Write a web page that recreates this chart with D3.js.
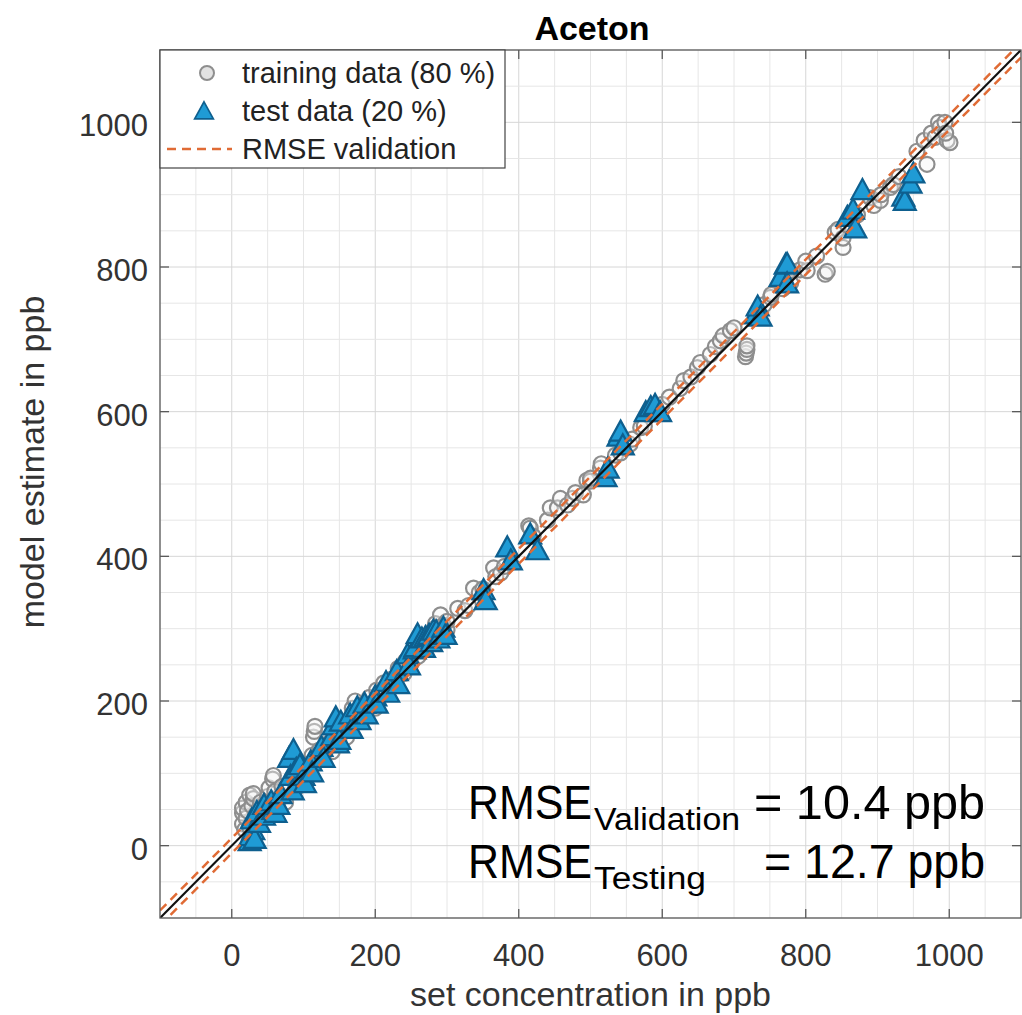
<!DOCTYPE html>
<html>
<head>
<meta charset="utf-8">
<script src="https://cdn.jsdelivr.net/npm/d3@7"></script>
<style>
  body { margin: 0; background: #fff; }
  text { font-family: "Liberation Sans", Arial, Helvetica, sans-serif; }
</style>
</head>
<body>
<script>
// chart size
const width = 1022;
const height = 1015;
const plot = { left: 160, right: 1021, top: 50, bottom: 918 };

// data: [set concentration, model estimate] in ppb
const trainPoints = [
  [15,30],[15,45],[15,52],[18,22],[20,38],[20,60],[22,48],[25,25],[25,70],[28,55],[30,30],[30,65],[30,72],
  [33,42],[35,28],[38,50],[40,42],[40,60],[45,38],[45,55],[50,52],[50,68],[52,80],[55,60],[57,92],[58,97],
  [60,75],[65,62],[70,70],[70,82],[75,60],[78,76],[80,85],[85,95],[90,80],[90,92],[92,105],[100,90],[100,100],
  [102,112],[110,112],[112,125],[114,150],[115,158],[116,165],[120,120],[122,132],[130,128],[132,140],[140,130],
  [142,145],[150,150],[152,162],[160,150],[162,165],[168,190],[170,175],[172,200],[180,180],[182,195],[190,188],
  [192,205],[200,190],[200,200],[202,215],[210,212],[212,225],[220,218],[222,230],[230,232],[232,245],[240,238],
  [242,255],[250,252],[252,265],[260,262],[262,275],[270,275],[272,290],[280,282],[282,300],[284,307],[290,292],
  [291,319],[295,305],[300,298],[300,310],
  [315,328],[325,325],[330,332],[337,356],[345,350],[350,355],[365,384],[368,372],[375,377],[380,386],[414,442],
  [416,439],[420,428],[440,450],[444,467],[454,467],[458,480],[468,471],[475,480],[479,488],[490,485],[495,505],
  [500,504],[500,508],[514,522],[515,528],[535,540],[542,543],[555,555],[558,562],[570,578],[575,580],[590,598],
  [600,610],[610,620],[625,632],[630,643],[640,648],[649,661],[653,668],[667,679],[674,690],[681,698],[685,705],
  [695,712],[700,716],[716,676],[717,681],[718,686],[718,691],[735,735],[742,748],[751,758],[752,762],[768,770],
  [779,778],[779,795],[792,796],[802,795],[800,808],[827,790],[830,794],[815,815],[841,848],[845,852],[852,827],
  [852,840],[858,858],[872,872],[890,896],[895,885],[904,892],[905,900],[918,910],[922,914],[930,925],[955,960],
  [969,942],[965,975],[975,985],[980,979],[985,1000],[987,993],[994,1000],[997,975],[1001,972],[995,985]
];

const testPoints = [
  [25,5],[26,12],[28,35],[30,20],[32,8],[35,45],[38,30],[45,40],[45,55],[55,60],[58,48],[61,44],[65,55],[68,70],
  [80,120],[82,95],[85,75],[86,131],[90,105],[95,110],[100,95],[102,85],[110,115],[112,100],[125,135],[128,120],
  [140,150],[142,165],[145,176],[148,140],[150,145],[152,170],[165,180],[167,160],[175,190],[178,172],[185,195],
  [188,180],[200,205],[202,195],[215,225],[218,210],[230,240],[232,222],[245,263],[247,248],[255,270],[256,273],
  [259,291],[265,285],[268,272],[270,287],[275,290],[278,280],[281,296],[285,295],[288,285],[295,300],[298,290],
  [351,352],[354,338],[384,411],[389,393],[416,429],[426,407],[521,508],[524,520],[539,564],[542,571],[545,552],
  [577,598],[584,605],[590,608],[597,598],[730,733],[733,744],[737,730],[765,785],[772,802],[774,803],[774,776],
  [858,868],[866,878],[869,852],[879,905],[936,896],[938,890],[946,914],[950,928]
];

const majorTicks = [0, 200, 400, 600, 800, 1000];
const minorTicks = d3.range(-100, 1101, 50);
const axisRange = [-100, 1100];
const rmseValidation = 10.4;
const rmseTesting = 12.7;
const legendLabels = ["training data (80 %)", "test data (20 %)", "RMSE validation"];

const svg = d3.select("body").append("svg")
  .attr("width", width)
  .attr("height", height);

const x = d3.scaleLinear().domain(axisRange).range([plot.left, plot.right]);
const y = d3.scaleLinear().domain(axisRange).range([plot.bottom, plot.top]);

svg.append("defs").append("clipPath").attr("id", "clip")
  .append("rect")
  .attr("x", plot.left).attr("y", plot.top)
  .attr("width", plot.right - plot.left).attr("height", plot.bottom - plot.top);

// grid
const grid = svg.append("g");
grid.selectAll(".vminor").data(minorTicks).enter().append("line")
  .attr("x1", d => x(d)).attr("x2", d => x(d))
  .attr("y1", plot.top).attr("y2", plot.bottom)
  .attr("stroke", d => majorTicks.includes(d) ? "#d6d6d6" : "#e6e6e6")
  .attr("stroke-width", 1);
grid.selectAll(".hminor").data(minorTicks).enter().append("line")
  .attr("y1", d => y(d)).attr("y2", d => y(d))
  .attr("x1", plot.left).attr("x2", plot.right)
  .attr("stroke", d => majorTicks.includes(d) ? "#d6d6d6" : "#e6e6e6")
  .attr("stroke-width", 1);

const points = svg.append("g").attr("clip-path", "url(#clip)");

// training circles
points.selectAll("circle").data(trainPoints).enter().append("circle")
  .attr("cx", d => x(d[0]))
  .attr("cy", d => y(d[1]))
  .attr("r", 7.5)
  .attr("fill", "#f4f4f4")
  .attr("fill-opacity", 0.4)
  .attr("stroke", "#8e8e8e")
  .attr("stroke-width", 2.2);

// test triangles
const tri = "M0,-12L11,8L-11,8Z";
points.selectAll("path.tri").data(testPoints).enter().append("path")
  .attr("class", "tri")
  .attr("d", tri)
  .attr("transform", d => `translate(${x(d[0])},${y(d[1])})`)
  .attr("fill", "#1f9bd5")
  .attr("stroke", "#0e5f8e")
  .attr("stroke-width", 2.2);

// identity line and RMSE band
const line = d3.line().x(d => x(d[0])).y(d => y(d[1]));
[-rmseValidation, rmseValidation].forEach(off => {
  points.append("path")
    .attr("d", line(axisRange.map(v => [v, v + off])))
    .attr("fill", "none")
    .attr("stroke", "#e06b35")
    .attr("stroke-width", 2.5)
    .attr("stroke-dasharray", "9,6");
});
points.append("path")
  .attr("d", line(axisRange.map(v => [v, v])))
  .attr("fill", "none")
  .attr("stroke", "#111")
  .attr("stroke-width", 2.2);

// frame and ticks
const frame = svg.append("g").attr("stroke", "#5a5a5a").attr("stroke-width", 1.3);
frame.append("rect")
  .attr("x", plot.left).attr("y", plot.top)
  .attr("width", plot.right - plot.left).attr("height", plot.bottom - plot.top)
  .attr("fill", "none");
majorTicks.forEach(t => {
  frame.append("line").attr("x1", x(t)).attr("x2", x(t)).attr("y1", plot.bottom).attr("y2", plot.bottom - 9);
  frame.append("line").attr("x1", x(t)).attr("x2", x(t)).attr("y1", plot.top).attr("y2", plot.top + 9);
  frame.append("line").attr("y1", y(t)).attr("y2", y(t)).attr("x1", plot.left).attr("x2", plot.left + 9);
  frame.append("line").attr("y1", y(t)).attr("y2", y(t)).attr("x1", plot.right).attr("x2", plot.right - 9);
});

// tick labels
svg.append("g").selectAll("text").data(majorTicks).enter().append("text")
  .attr("x", d => x(d)).attr("y", 966)
  .attr("text-anchor", "middle")
  .attr("font-size", 31).attr("fill", "#333")
  .text(d => d);
svg.append("g").selectAll("text").data(majorTicks).enter().append("text")
  .attr("x", 148).attr("y", d => y(d) + 3).attr("dy", "0.36em")
  .attr("text-anchor", "end")
  .attr("font-size", 31).attr("fill", "#333")
  .text(d => d);

// axis labels and title
svg.append("text")
  .attr("x", (plot.left + plot.right) / 2).attr("y", 1006)
  .attr("text-anchor", "middle").attr("font-size", 34).attr("fill", "#333")
  .text("set concentration in ppb");
svg.append("text")
  .attr("transform", "translate(44,462) rotate(-90)")
  .attr("text-anchor", "middle").attr("font-size", 34).attr("fill", "#333")
  .text("model estimate in ppb");
svg.append("text")
  .attr("x", 592).attr("y", 40)
  .attr("text-anchor", "middle").attr("font-size", 34).attr("font-weight", "bold")
  .text("Aceton");

// legend
const legend = svg.append("g");
legend.append("rect")
  .attr("x", plot.left).attr("y", plot.top)
  .attr("width", 345).attr("height", 118)
  .attr("fill", "#fff").attr("stroke", "#444").attr("stroke-width", 1.2);
legend.append("circle").attr("cx", 207).attr("cy", 73).attr("r", 7)
  .attr("fill", "#e2e2e2").attr("stroke", "#8e8e8e").attr("stroke-width", 2);
legend.append("path").attr("d", tri).attr("transform", "translate(204,112) scale(0.85)")
  .attr("fill", "#1f9bd5").attr("stroke", "#0e5f8e").attr("stroke-width", 2);
legend.append("line").attr("x1", 167).attr("x2", 232).attr("y1", 149).attr("y2", 149)
  .attr("stroke", "#e06b35").attr("stroke-width", 2.5).attr("stroke-dasharray", "9,6");
legend.selectAll("text.lab").data(legendLabels).enter().append("text")
  .attr("class", "lab")
  .attr("x", 242).attr("y", (d, i) => 73 + i * 38).attr("dy", "0.36em")
  .attr("font-size", 29).attr("fill", "#222")
  .text(d => d);

// RMSE annotation
const note = svg.append("g").attr("fill", "#000");
function rmseLine(base, sub, subLen, valStart, val) {
  note.append("text").attr("x", 468).attr("y", base)
    .attr("font-size", 48).attr("textLength", 124).attr("lengthAdjust", "spacingAndGlyphs")
    .text("RMSE");
  note.append("text").attr("x", 594).attr("y", base + 11)
    .attr("font-size", 31).attr("textLength", subLen).attr("lengthAdjust", "spacingAndGlyphs")
    .text(sub);
  note.append("text").attr("x", valStart).attr("y", base)
    .attr("font-size", 48).attr("textLength", 985 - valStart).attr("lengthAdjust", "spacingAndGlyphs")
    .text("= " + val + " ppb");
}
rmseLine(819, "Validation", 146, 754, rmseValidation.toFixed(1));
rmseLine(878, "Testing", 112, 764, rmseTesting.toFixed(1));
</script>
</body>
</html>
